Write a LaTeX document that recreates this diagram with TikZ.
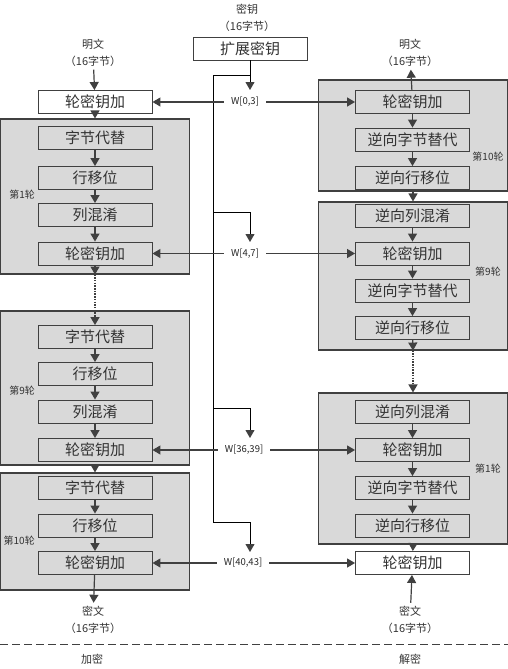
\documentclass[tikz,border=0pt]{standalone}
\usepackage{fontspec}
\setmainfont{Noto Sans CJK SC}
\usetikzlibrary{positioning,arrows.meta}
\definecolor{roundgray}{HTML}{D9D9D9}
\definecolor{edgegray}{HTML}{404040}

\begin{document}
\begin{tikzpicture}[
    x=1pt, y=-1pt,
    box/.style={
        draw=edgegray,
        line width=0.9pt,
        minimum width=114pt,
        minimum height=23pt,
        inner sep=0pt,
        text=black!80,
        font=\fontsize{15}{15}\selectfont
    },
    rnd/.style={
        draw=edgegray,
        line width=1.1pt,
        fill=roundgray,
        minimum width=189pt,
        inner sep=0pt
    },
    txt/.style={align=center, text=black!80, font=\fontsize{11}{17}\selectfont},
    rlabel/.style={text=black!80, inner sep=0pt, font=\fontsize{10}{10}\selectfont},
    wlabel/.style={text=black!85, inner xsep=7pt, inner ysep=2pt, font=\fontsize{9.5}{9.5}\selectfont},
    arrow/.style={-{Triangle[length=8pt,width=9pt]}, draw=edgegray, line width=1.2pt},
    dotarrow/.style={arrow, line width=1.4pt, dash pattern=on 1.5pt off 1.2pt},
    keyline/.style={draw=black, line width=0.9pt},
    keyarrow/.style={keyline, -{Triangle[length=8pt,width=9pt,color=edgegray]}},
    sepline/.style={draw=edgegray, line width=1pt, dash pattern=on 8pt off 4pt}
]
\useasboundingbox (0,0) rectangle (508,669);

% encryption
\node[rnd, minimum height=155pt] (rnd1) at (95,196.5) {};
\node[rnd, minimum height=154pt] (rnd9) at (95,388) {};
\node[rnd, minimum height=117pt] (rnd10) at (95,531.5) {};

\node[txt] (ptxt) at (93,52.5) {明文\\（16字节）};
\node[box, fill=white] (ark0) at (95,102) {轮密钥加};

\node[box] (sb1) at (95,138) {字节代替};
\node[box] (sr1) at (95,178) {行移位};
\node[box] (mc1) at (95,215) {列混淆};
\node[box] (ark1) at (95,253.5) {轮密钥加};
\node[rlabel, anchor=east] (lab1) at (35,195) {第1轮};

\node[box] (sb9) at (95,337) {字节代替};
\node[box] (sr9) at (95,374) {行移位};
\node[box] (mc9) at (95,411.5) {列混淆};
\node[box] (ark9) at (95,450) {轮密钥加};
\node[rlabel, anchor=east] (lab9) at (35,391) {第9轮};

\node[box] (sb10) at (95,487.5) {字节代替};
\node[box] (sr10) at (95,525.5) {行移位};
\node[box] (ark10) at (95,563) {轮密钥加};
\node[rlabel, anchor=east] (lab10) at (35,541) {第10轮};

\node[txt] (ctxt) at (93,620) {密文\\（16字节）};
\node[txt] (enclab) at (92,659) {加密};

% decryption
\node[rnd, minimum height=111pt] (rnd10d) at (413,135.5) {};
\node[rnd, minimum height=148pt] (rnd9d) at (413,276) {};
\node[rnd, minimum height=151pt] (rnd1d) at (413,468.5) {};

\node[txt] (ptxtd) at (410,52.5) {明文\\（16字节）};

\node[box] (arkd10) at (412.5,102) {轮密钥加};
\node[box] (isb10) at (412.5,139.5) {逆向字节替代};
\node[box] (isr10) at (412.5,178) {逆向行移位};
\node[rlabel] (labd10) at (488,157) {第10轮};

\node[box] (imc9) at (412.5,215.5) {逆向列混淆};
\node[box] (arkd9) at (412.5,253.5) {轮密钥加};
\node[box] (isb9) at (412.5,290.5) {逆向字节替代};
\node[box] (isr9) at (412.5,328) {逆向行移位};
\node[rlabel] (labd9) at (488,272) {第9轮};

\node[box] (imc1) at (412.5,411.5) {逆向列混淆};
\node[box] (arkd1) at (412.5,450) {轮密钥加};
\node[box] (isb1) at (412.5,488) {逆向字节替代};
\node[box] (isr1) at (412.5,525.5) {逆向行移位};
\node[rlabel] (labd1) at (488,469) {第1轮};

\node[box, fill=white] (arkf) at (412.5,563) {轮密钥加};
\node[txt] (ctxtd) at (410,620) {密文\\（16字节）};
\node[txt] (declab) at (410,659) {解密};

% key schedule
\node[txt] (key) at (247,17.5) {密钥\\（16字节）};
\node[box, fill=white] (kexp) at (250,48.5) {扩展密钥};

\node[wlabel] (w0) at (245,102) {W[0,3]};
\node[wlabel] (w4) at (245,253.5) {W[4,7]};
\node[wlabel] (w36) at (244,450) {W[36,39]};
\node[wlabel] (w40) at (243,563) {W[40,43]};

\coordinate (ktop) at (213,75);
\coordinate (t0) at (250,90);
\coordinate (b4) at (213,212);
\coordinate (t4) at (250,242);
\coordinate (b36) at (213,408);
\coordinate (t36) at (250,438);
\coordinate (b40) at (213,522);
\coordinate (t40) at (250,552);

\draw[keyarrow] (kexp.south) -- (t0);
\draw[keyarrow] (kexp.south |- ktop) -- (ktop) -- (b40) -| (t40);
\draw[keyarrow] (b4) -| (t4);
\draw[keyarrow] (b36) -| (t36);

\draw[arrow] (w0.west) -- (w0.west -| ark0.east);
\draw[arrow] (w0.east) -- (w0.east -| arkd10.west);
\draw[arrow] (w4.west) -- (w4.west -| ark1.east);
\draw[arrow] (w4.east) -- (w4.east -| arkd9.west);
\draw[arrow] (w36.west) -- (w36.west -| ark9.east);
\draw[arrow] (w36.east) -- (w36.east -| arkd1.west);
\draw[arrow] (w40.west) -- (w40.west -| ark10.east);
\draw[arrow] (w40.east) -- (w40.east -| arkf.west);

% encryption flow
\draw[arrow] (ptxt) -- (ark0);
\draw[arrow] (ark0) -- (rnd1.north);
\draw[arrow] (sb1) -- (sr1);
\draw[arrow] (sr1) -- (mc1);
\draw[arrow] (mc1) -- (ark1);
\draw[arrow] (ark1) -- (rnd1.south);
\draw[dotarrow] (rnd1.south) -- (sb9);
\draw[arrow] (sb9) -- (sr9);
\draw[arrow] (sr9) -- (mc9);
\draw[arrow] (mc9) -- (ark9);
\draw[arrow] (rnd9.south) -- (rnd10.north);
\draw[arrow] (sb10) -- (sr10);
\draw[arrow] (sr10) -- (ark10);
\draw[arrow] (ark10) -- (ctxt);

% decryption flow
\draw[arrow] (ctxtd) -- (arkf);
\draw[arrow] (rnd1d.south) -- (arkf);
\draw[arrow] (imc1) -- (arkd1);
\draw[arrow] (arkd1) -- (isb1);
\draw[arrow] (isb1) -- (isr1);
\draw[arrow] (isr9) -- (rnd9d.south);
\draw[dotarrow] (rnd9d.south) -- (rnd1d.north);
\draw[arrow] (imc9) -- (arkd9);
\draw[arrow] (arkd9) -- (isb9);
\draw[arrow] (isb9) -- (isr9);
\draw[arrow] (rnd10d.south) -- (rnd9d.north);
\draw[arrow] (arkd10) -- (isb10);
\draw[arrow] (isb10) -- (isr10);
\draw[arrow] (arkd10) -- (ptxtd);

\coordinate (sepl) at (0,644);
\coordinate (sepr) at (508,644);
\draw[sepline] (sepl) -- (sepr);

\end{tikzpicture}
\end{document}
